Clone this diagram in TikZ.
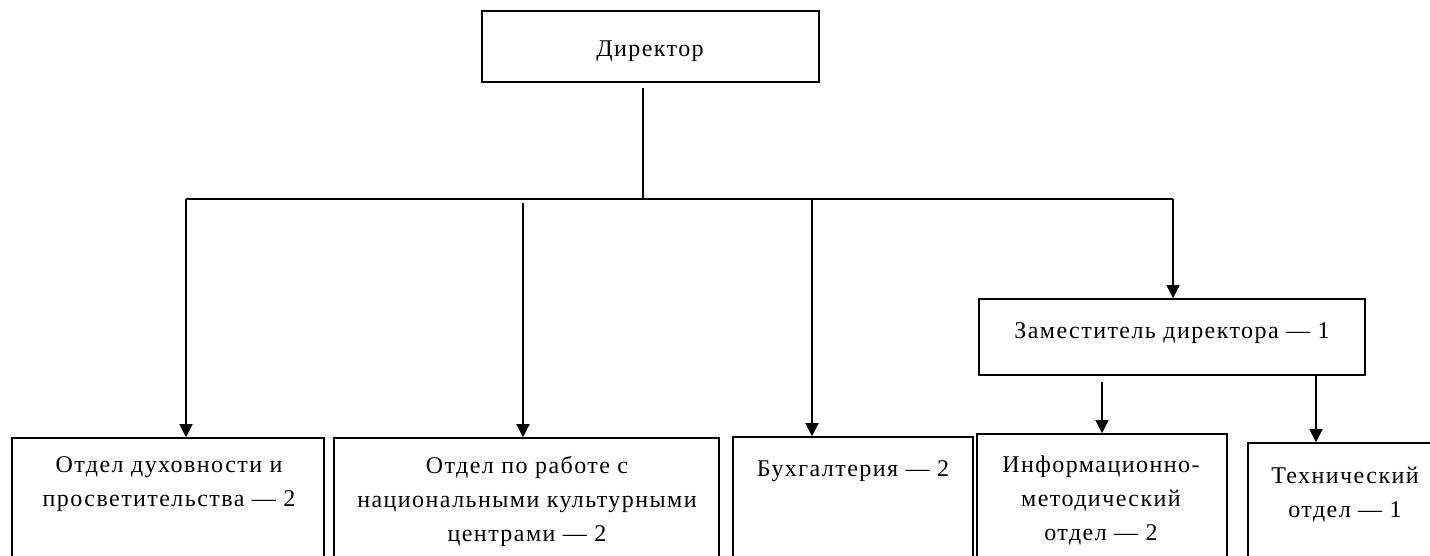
\documentclass[tikz,border=0pt]{standalone}
\usepackage{fontspec}
\setmainfont[LetterSpace=6]{Liberation Serif}
\usetikzlibrary{arrows.meta}
\usetikzlibrary{positioning}
\tikzset{box/.style = {draw, line width=1.6pt, rectangle, inner sep=0pt},
         lbl/.style = {anchor=north, align=center, inner sep=0pt,
                       font=\fontsize{24}{34}\selectfont},
         conn/.style = {line width=1.3pt},
         arr/.style = {conn, -{Triangle[width=13pt,length=13pt]}}}

\begin{document}
\begin{tikzpicture}[x=1pt, y=-1pt]
    \clip (0, 0) rectangle (1430, 555);
    \node [box, minimum width=337pt, minimum height=71pt] (dir) at (650.5, 46.5) {};
    \node [box, minimum width=386pt, minimum height=76pt] (dep) at (1172, 337) {};
    \node [box, minimum width=312pt, minimum height=142pt] (otd1) at (168, 509) {};
    \node [box, minimum width=385pt, minimum height=142pt] (otd2) at (526.5, 509) {};
    \node [box, minimum width=240pt, minimum height=143pt] (buh) at (853, 508.5) {};
    \node [box, minimum width=250pt, minimum height=146pt] (inf) at (1102, 507) {};
    \node [box, minimum width=184pt, minimum height=137pt] (tech) at (1340, 511.5) {};

    \node [lbl] (dirtxt) at (650, 41) {Директор};
    \node [lbl] (deptxt) at (1172, 322) {Заместитель директора — 1};
    \node [lbl] (otd1txt) at (169, 456) {Отдел духовности и\\просветительства — 2};
    \node [lbl] (otd2txt) at (527, 456) {Отдел по работе с\\национальными культурными\\центрами — 2};
    \node [lbl] (buhtxt) at (853, 460) {Бухгалтерия — 2};
    \node [lbl] (inftxt) at (1101, 456) {Информационно-\\методический\\отдел — 2};
    \node [lbl] (techtxt) at (1345, 467) {Технический\\отдел — 1};

    \coordinate (b0) at (643, 199);
    \coordinate (b1) at (186, 199);
    \coordinate (b2) at (523, 199);
    \coordinate (b3) at (812, 199);
    \coordinate (b4) at (1173, 199);
    \coordinate (tin) at ([xshift=-24pt]tech.north);

    \draw [conn, shorten <=5pt] (dir.south -| b0) -- (b0);
    \draw [conn] (b1) -- (b4);
    \draw [arr] (b1) -- (b1 |- otd1.north);
    \draw [arr, shorten <=4pt] (b2) -- (b2 |- otd2.north);
    \draw [arr] (b3) -- (b3 |- buh.north);
    \draw [arr] (b4) -- (b4 |- dep.north);
    \draw [arr, shorten <=6pt] (inf.north |- dep.south) -- (inf.north);
    \draw [arr] (tin |- dep.south) -- (tin);
\end{tikzpicture}
\end{document}
